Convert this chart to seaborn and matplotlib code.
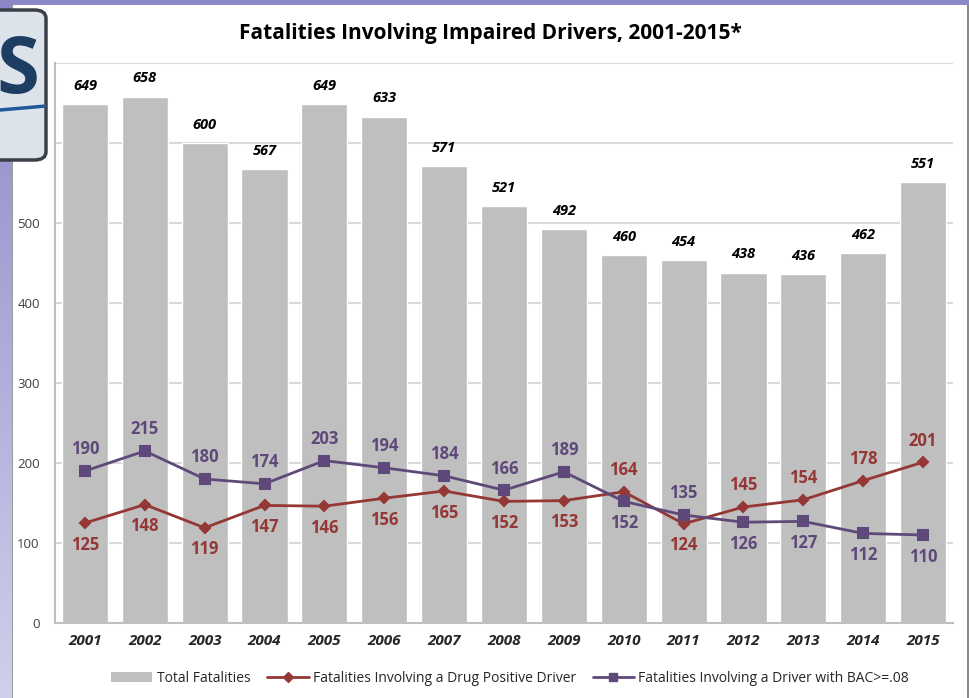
import matplotlib
matplotlib.use("Agg")
import matplotlib.pyplot as plt
from matplotlib.patches import Rectangle, FancyBboxPatch, Patch
from matplotlib.lines import Line2D
import numpy as np
import pandas as pd
import seaborn as sns

# %% data
years = ["2001", "2002", "2003", "2004", "2005", "2006", "2007", "2008",
         "2009", "2010", "2011", "2012", "2013", "2014", "2015"]
total = [649, 658, 600, 567, 649, 633, 571, 521, 492, 460, 454, 438, 436, 462, 551]
drug = [125, 148, 119, 147, 146, 156, 165, 152, 153, 164, 124, 145, 154, 178, 201]
bac = [190, 215, 180, 174, 203, 194, 184, 166, 189, 152, 135, 126, 127, 112, 110]
# label placement: +1 above the point, -1 below
drug_pos = [-1, -1, -1, -1, -1, -1, -1, -1, -1, 1, -1, 1, 1, 1, 1]
bac_pos = [1, 1, 1, 1, 1, 1, 1, 1, 1, -1, 1, -1, -1, -1, -1]

df = pd.DataFrame({"year": years, "total": total, "drug": drug, "bac": bac})

bar_color = "#bfbfbf"
drug_color = "#953735"
bac_color = "#5f497a"

# %% figure
sns.set_style("white")
plt.rcParams["font.family"] = ["Open Sans", "DejaVu Sans"]

fig = plt.figure(figsize=(9.7, 6.98), dpi=100)
W, H = 970, 698

# slide-ish background: purple left strip + top strip
grad = np.linspace(0, 1, 256).reshape(-1, 1)
strip = fig.add_axes([0, 0, 12 / W, 1])
strip.imshow(grad, aspect="auto", cmap=matplotlib.colors.LinearSegmentedColormap.from_list(
    "p", ["#8c88c6", "#cfd0ec"]), extent=[0, 1, 0, 1])
strip.axis("off")
fig.patches.append(Rectangle((0, 1 - 5 / H), 1, 5 / H, transform=fig.transFigure,
                             facecolor="#8c88c6", edgecolor="none", zorder=0))
fig.patches.append(Rectangle((12 / W, 0), 1.5 / W, 1 - 5 / H, transform=fig.transFigure,
                             facecolor="#9a9a9a", edgecolor="none", zorder=1))
fig.patches.append(Rectangle((967 / W, 0), 3 / W, 1 - 5 / H, transform=fig.transFigure,
                             facecolor="#8a8a8a", edgecolor="none", zorder=1))

ax = fig.add_axes([55 / W, 1 - 623 / H, 898 / W, 560 / H])

sns.barplot(data=df, x="year", y="total", color=bar_color, width=0.77,
            saturation=1, ax=ax, zorder=2)
sns.pointplot(data=df, x="year", y="drug", color=drug_color, markers="D",
              markersize=5, linewidth=2, ax=ax, zorder=4)
sns.pointplot(data=df, x="year", y="bac", color=bac_color, markers="s",
              markersize=7, linewidth=2, ax=ax, zorder=4)

ax.set_ylim(0, 700)
ax.set_xlim(-0.5, len(years) - 0.5)
ax.set_yticks(range(0, 701, 100))
ax.set_yticklabels([str(v) for v in range(0, 701, 100)][:-1] + [""])
ax.yaxis.grid(True, color="#d9d9d9", linewidth=1.5, zorder=0)
ax.set_axisbelow(True)
for s in ["top", "right"]:
    ax.spines[s].set_visible(False)
ax.spines["left"].set_color("#bfbfbf")
ax.spines["left"].set_linewidth(1.5)
ax.spines["bottom"].set_color("#bfbfbf")
ax.spines["bottom"].set_linewidth(1.5)
ax.tick_params(axis="y", length=5, color="#bfbfbf", labelsize=9.5, labelcolor="#404040", pad=6)
ax.tick_params(axis="x", length=5, color="#bfbfbf", labelsize=11, pad=8)
ax.set_xticks(np.arange(len(years)) - 0.5, minor=True)
ax.tick_params(axis="x", which="major", length=0)
ax.tick_params(axis="x", which="minor", length=6, color="#bfbfbf")
for lbl in ax.get_xticklabels():
    lbl.set_fontweight("bold")
    lbl.set_fontstyle("italic")
ax.set_xlabel("")
ax.set_ylabel("")

# value labels
for i, v in enumerate(total):
    ax.annotate(str(v), (i, v), xytext=(0, 8), textcoords="offset points",
                ha="center", va="bottom", fontsize=10.5, fontweight="bold",
                fontstyle="italic", color="black")
for i, (v, p) in enumerate(zip(drug, drug_pos)):
    ax.annotate(str(v), (i, v), xytext=(0, 9 * p), textcoords="offset points",
                ha="center", va="bottom" if p > 0 else "top", fontsize=12,
                fontweight="bold", color=drug_color, zorder=5)
for i, (v, p) in enumerate(zip(bac, bac_pos)):
    ax.annotate(str(v), (i, v), xytext=(0, 9 * p), textcoords="offset points",
                ha="center", va="bottom" if p > 0 else "top", fontsize=12,
                fontweight="bold", color=bac_color, zorder=5)

fig.text(490 / W, 1 - 33 / H, "Fatalities Involving Impaired Drivers, 2001-2015*",
         ha="center", va="center", fontsize=15, fontweight="bold", color="black")

handles = [
    Patch(facecolor=bar_color, edgecolor="none"),
    Line2D([], [], color=drug_color, marker="D", markersize=5, linewidth=2),
    Line2D([], [], color=bac_color, marker="s", markersize=6, linewidth=2),
]
labels = ["Total Fatalities", "Fatalities Involving a Drug Positive Driver",
          "Fatalities Involving a Driver with BAC>=.08"]
fig.legend(handles, labels, loc="center", bbox_to_anchor=(510 / W, 1 - 678 / H),
           ncol=3, frameon=False, fontsize=10, handlelength=3, columnspacing=1.2,
           handletextpad=0.3)

# partially visible logo in the top-left corner
logo = FancyBboxPatch((-20 / W, 1 - 160 / H), 66 / W, 150 / H,
                      boxstyle="round,pad=0,rounding_size=0.012",
                      transform=fig.transFigure, facecolor="#dde3ea",
                      edgecolor="#3a3f48", linewidth=2.5, zorder=10)
fig.patches.append(logo)
t = fig.text(-4 / W, 1 - 72 / H, "S", ha="left", va="center", fontsize=56,
             fontweight="bold", color="#1e3d63", zorder=11)
t.set_clip_path(logo)
ln = Line2D([0, 46 / W], [1 - 110 / H, 1 - 106 / H], transform=fig.transFigure,
            color="#1e5a9a", linewidth=2.5, zorder=11)
fig.lines.append(ln)
ln.set_clip_path(logo)

fig.savefig("out.png", dpi=100)
